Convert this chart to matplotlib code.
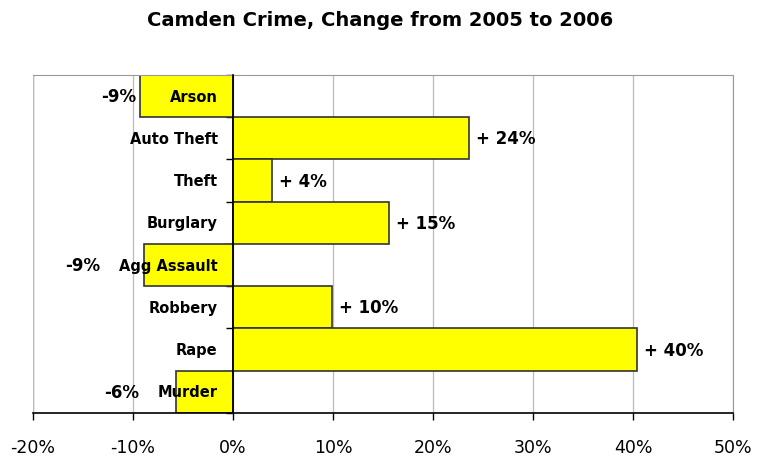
import matplotlib.pyplot as plt
import numpy as np

plt.rcParams["font.family"] = "DejaVu Sans"

# data, top to bottom
crimes = ["Arson", "Auto Theft", "Theft", "Burglary", "Agg Assault", "Robbery", "Rape", "Murder"]
change = [-9.3, 23.6, 3.9, 15.6, -8.9, 9.9, 40.4, -5.7]
change_labels = ["-9%", "+ 24%", "+ 4%", "+ 15%", "-9%", "+ 10%", "+ 40%", "-6%"]
x_ticks = [-20, -10, 0, 10, 20, 30, 40, 50]
x_tick_labels = ["-20%", "-10%", "0%", "10%", "20%", "30%", "40%", "50%"]

# where the negative labels sit (right edge), moved clear of the category names
neg_label_x = {0: -9.7, 4: -13.3, 7: -9.4}

fig = plt.figure(figsize=(7.57, 4.6), dpi=100)
ax = fig.add_axes([0.0436, 0.1, 0.9247, 0.7348])

y = np.arange(len(crimes))
ax.barh(y, change, height=1.0, color="#ffff00", edgecolor="#333333", linewidth=1.2, zorder=2)

ax.set_xlim(-20, 50)
ax.set_ylim(len(crimes) - 0.5, -0.5)

# frame: gray box, black bottom axis, black zero axis
ax.spines["top"].set_color("#999999")
ax.spines["right"].set_color("#999999")
ax.spines["bottom"].set_color("black")
ax.spines["bottom"].set_linewidth(1.2)
ax.spines["left"].set_position(("data", 0))
ax.spines["left"].set_color("black")
ax.spines["left"].set_linewidth(1.2)
ax.spines["left"].set_zorder(3)
ax.axvline(-20, color="#999999", linewidth=1.0, zorder=0)

ax.set_xticks(x_ticks)
ax.set_xticklabels(x_tick_labels, fontsize=12.5)
ax.tick_params(axis="x", direction="out", length=5, width=1, pad=13)
ax.grid(axis="x", color="#bbbbbb", linewidth=0.9, zorder=0)
ax.set_axisbelow(True)

ax.set_yticks(y)
ax.set_yticklabels([])
ax.set_yticks(np.arange(len(crimes) + 1) - 0.5, minor=True)
ax.tick_params(axis="y", which="major", length=0)
ax.tick_params(axis="y", which="minor", direction="out", length=5, width=1)

# category names sit just left of the zero line, over the bars
for i, name in enumerate(crimes):
    ax.annotate(name, (0, i), xytext=(-11, 0), textcoords="offset points",
                ha="right", va="center", fontsize=10.5, fontweight="bold", zorder=5)

for i, (v, s) in enumerate(zip(change, change_labels)):
    if v >= 0:
        ax.annotate(s, (v, i), xytext=(5, 0), textcoords="offset points",
                    ha="left", va="center", fontsize=12, fontweight="bold", zorder=5)
    else:
        ax.text(neg_label_x[i], i, s, ha="right", va="center",
                fontsize=12, fontweight="bold", zorder=5)

fig.text(0.502, 0.955, "Camden Crime, Change from 2005 to 2006",
         ha="center", va="center", fontsize=14, fontweight="bold")

plt.savefig("out.png", dpi=100)
